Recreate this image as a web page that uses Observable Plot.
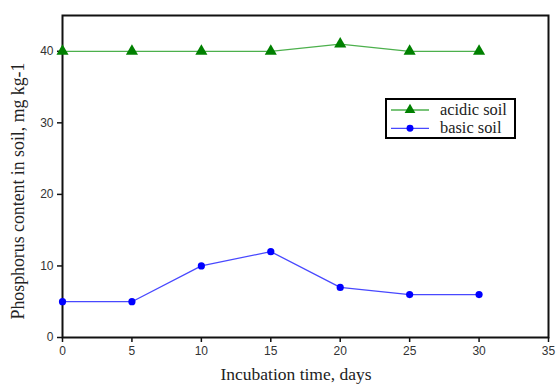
<!DOCTYPE html>
<html>
<head>
<meta charset="utf-8">
<script src="https://cdn.jsdelivr.net/npm/d3@7"></script>
<script src="https://cdn.jsdelivr.net/npm/@observablehq/plot@0.6"></script>
<style>
  html, body { margin: 0; padding: 0; background: #fff; }
  #wrap { position: relative; width: 556px; height: 386px; }
  #legend { position: absolute; left: 385px; top: 98px; width: 127px; height: 37px;
    border: 2.5px solid #000; background: #fff; box-sizing: content-box; }
  #legend svg { display: block; }
</style>
</head>
<body>
<div id="wrap"></div>
<script>
const days = [0, 5, 10, 15, 20, 25, 30];
const acidic = [40, 40, 40, 40, 41, 40, 40];
const basic = [5, 5, 10, 12, 7, 6, 6];
const xTicks = [0, 5, 10, 15, 20, 25, 30, 35];
const yTicks = [0, 10, 20, 30, 40];
const seriesNames = ["acidic soil", "basic soil"];

const acidicData = days.map((d, i) => ({day: d, value: acidic[i]}));
const basicData = days.map((d, i) => ({day: d, value: basic[i]}));

const plot = Plot.plot({
  width: 556,
  height: 386,
  marginLeft: 62,
  marginRight: 8,
  marginTop: 15,
  marginBottom: 49,
  style: {fontFamily: "Liberation Sans, Arial, sans-serif", fontSize: "12px", color: "#333", background: "#fff"},
  x: {domain: [0, 35], ticks: xTicks, label: null},
  y: {domain: [0, 45], ticks: yTicks, label: null},
  marks: [
    Plot.frame({stroke: "#111", strokeWidth: 2}),
    Plot.axisX({ticks: xTicks, tickSize: 5, tickPadding: 4, stroke: "#111", strokeWidth: 1.5, fontSize: 12, fill: "#333"}),
    Plot.axisY({ticks: yTicks, tickSize: 5, tickPadding: 4, stroke: "#111", strokeWidth: 1.5, fontSize: 12, fill: "#333"}),
    Plot.line(acidicData, {x: "day", y: "value", stroke: "#4cb04c", strokeWidth: 1.3}),
    Plot.dot(acidicData, {x: "day", y: "value", symbol: "triangle", r: 4.5, fill: "#008000", stroke: "none"}),
    Plot.line(basicData, {x: "day", y: "value", stroke: "#4848ff", strokeWidth: 1.3}),
    Plot.dot(basicData, {x: "day", y: "value", symbol: "circle", r: 3.6, fill: "#0000ff", stroke: "none"})
  ]
});

const svg = d3.select(plot);
svg.append("text")
  .attr("x", 296).attr("y", 380)
  .attr("text-anchor", "middle")
  .style("font-family", "Liberation Serif, Times New Roman, serif")
  .style("font-size", "17.5px").attr("fill", "#222")
  .text("Incubation time, days");
svg.append("text")
  .attr("transform", `translate(24,191) rotate(-90)`)
  .attr("text-anchor", "middle")
  .style("font-family", "Liberation Serif, Times New Roman, serif")
  .style("font-size", "17.8px").attr("fill", "#222")
  .text("Phosphorus content in soil, mg kg-1");

const wrap = document.getElementById("wrap");
wrap.appendChild(plot);

const legend = document.createElement("div");
legend.id = "legend";
wrap.appendChild(legend);
const lsvg = d3.select(legend).append("svg").attr("width", 127).attr("height", 37);
const legendStyles = [
  {line: "#4cb04c", fill: "#008000", sym: d3.symbolTriangle, size: 50},
  {line: "#4848ff", fill: "#0000ff", sym: d3.symbolCircle, size: 38}
];
seriesNames.forEach((name, i) => {
  const y = 10 + i * 18.3;
  const st = legendStyles[i];
  lsvg.append("line").attr("x1", 4).attr("x2", 42).attr("y1", y).attr("y2", y)
    .attr("stroke", st.line).attr("stroke-width", 1.3);
  lsvg.append("path").attr("d", d3.symbol(st.sym, st.size)()).attr("transform", `translate(23,${y})`)
    .attr("fill", st.fill);
  lsvg.append("text").attr("x", 53).attr("y", y + 4.5)
    .style("font-family", "Liberation Serif, Times New Roman, serif")
    .style("font-size", "16.4px").attr("fill", "#222").text(name);
});
</script>
</body>
</html>
